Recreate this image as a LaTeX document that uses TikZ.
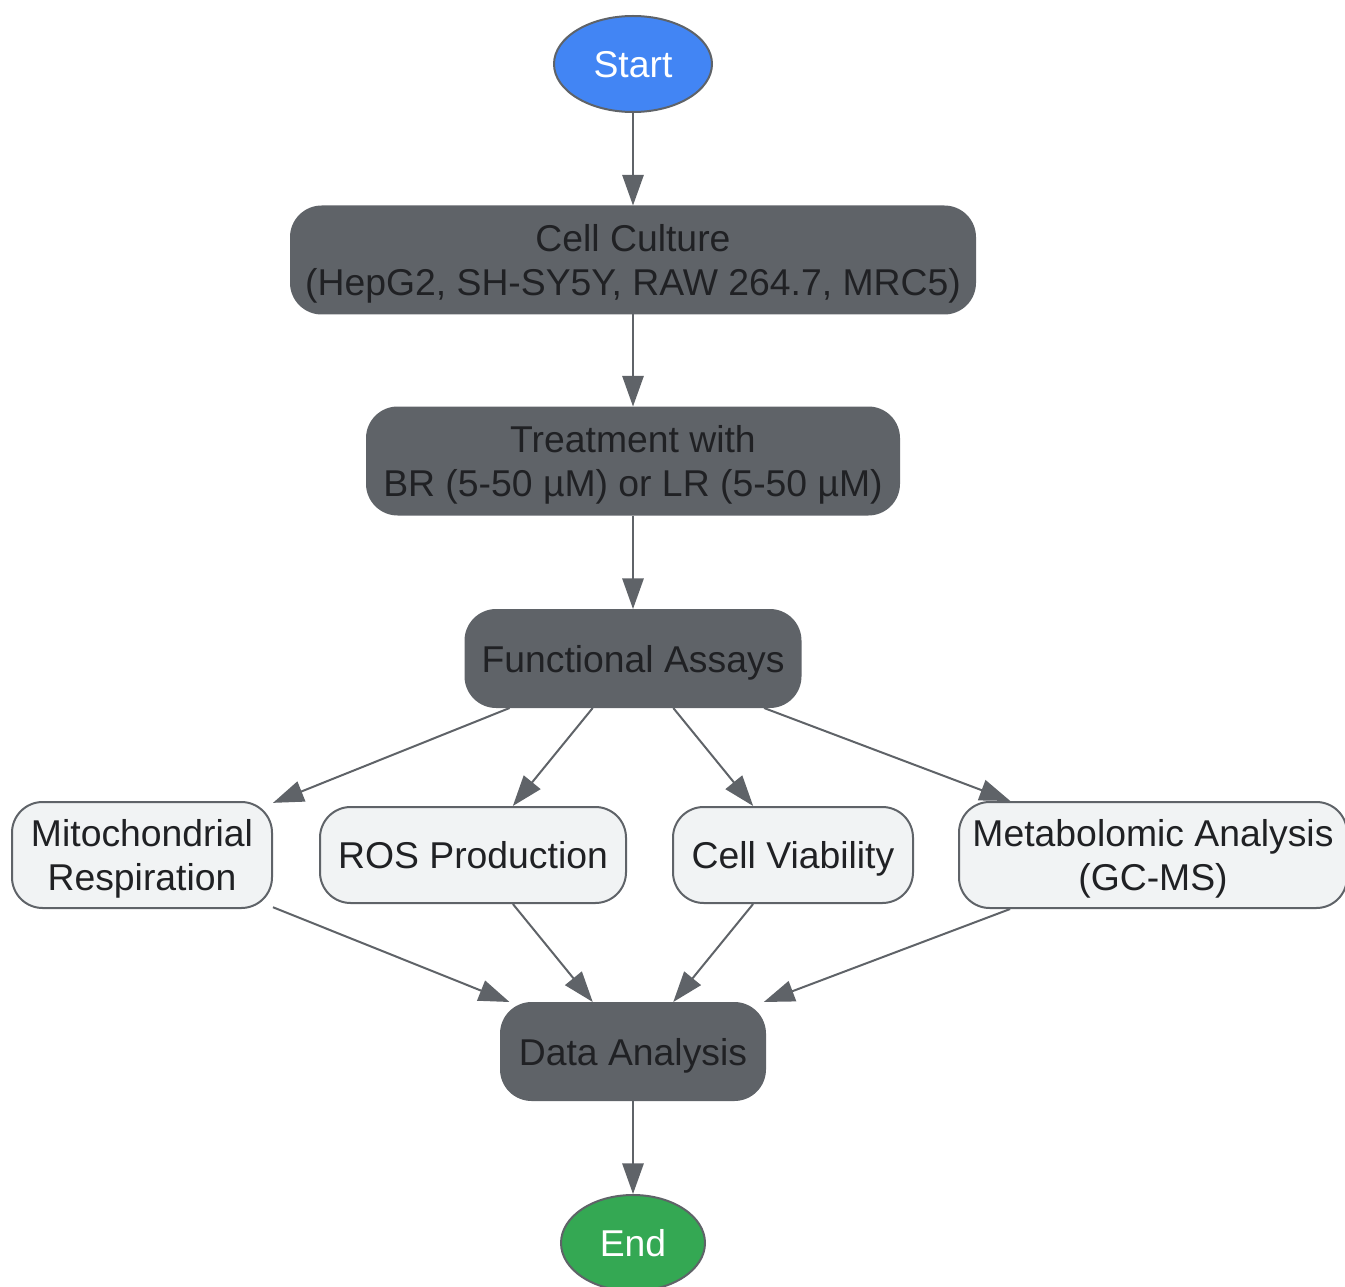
\documentclass[tikz,border=0pt]{standalone}
\usepackage{fontspec}
\setmainfont{Liberation Sans}
\usetikzlibrary{shapes.geometric,arrows.meta}
\definecolor{gdark}{HTML}{5F6368}
\definecolor{gtext}{HTML}{202124}
\definecolor{glight}{HTML}{F1F3F4}
\definecolor{gblue}{HTML}{4285F4}
\definecolor{ggreen}{HTML}{34A853}
\tikzset{
  base/.style={inner sep=0pt, align=center, font=\fontsize{28}{32.5}\selectfont, line width=1.5pt, draw=gdark, text depth=0pt},
  term/.style={base, ellipse, text=white},
  darkbox/.style={base, rectangle, rounded corners=23pt, fill=gdark, text=gtext},
  lightbox/.style={base, rectangle, rounded corners=23pt, fill=glight, text=gtext},
  conn/.style={draw=gdark, line width=1.5pt, -{Triangle[length=23pt,width=16pt]}},
}
\begin{document}
\begin{tikzpicture}[x=0.75pt,y=-0.75pt]
\useasboundingbox (0,0) rectangle (1345,1287);
\node[term, fill=gblue, minimum width=118.5pt, minimum height=72pt] (start) at (633,64) {Start};
\node[darkbox, minimum width=513pt, minimum height=80.25pt] (cell) at (633,260) {Cell Culture\\(HepG2, SH-SY5Y, RAW 264.7, MRC5)};
\node[darkbox, minimum width=399pt, minimum height=80.25pt] (treat) at (633,461) {Treatment with\\BR (5-50 µM) or LR (5-50 µM)};
\node[darkbox, minimum width=251.25pt, minimum height=72.75pt] (fa) at (633,658.5) {Functional Assays};
\node[lightbox, minimum width=195pt, minimum height=79.5pt] (mito) at (142,855) {Mitochondrial\\Respiration};
\node[lightbox, minimum width=229.5pt, minimum height=72pt] (ros) at (473,855) {ROS Production};
\node[lightbox, minimum width=180pt, minimum height=72pt] (cv) at (793,855) {Cell Viability};
\node[lightbox, minimum width=291pt, minimum height=79.5pt] (meta) at (1153,855) {Metabolomic Analysis\\(GC-MS)};
\node[darkbox, minimum width=198pt, minimum height=72.75pt] (da) at (633,1051.5) {Data Analysis};
\node[term, fill=ggreen, minimum width=108pt, minimum height=72pt] (end) at (633,1243) {End};
\draw[conn] (start) -- (cell);
\draw[conn] (cell) -- (treat);
\draw[conn] (treat) -- (fa);
\draw[conn] (fa) -- (mito);
\draw[conn] (fa) -- (ros);
\draw[conn] (fa) -- (cv);
\draw[conn] (fa) -- (meta);
\draw[conn] (mito) -- (da);
\draw[conn] (ros) -- (da);
\draw[conn] (cv) -- (da);
\draw[conn] (meta) -- (da);
\draw[conn] (da) -- (end);
\end{tikzpicture}
\end{document}
